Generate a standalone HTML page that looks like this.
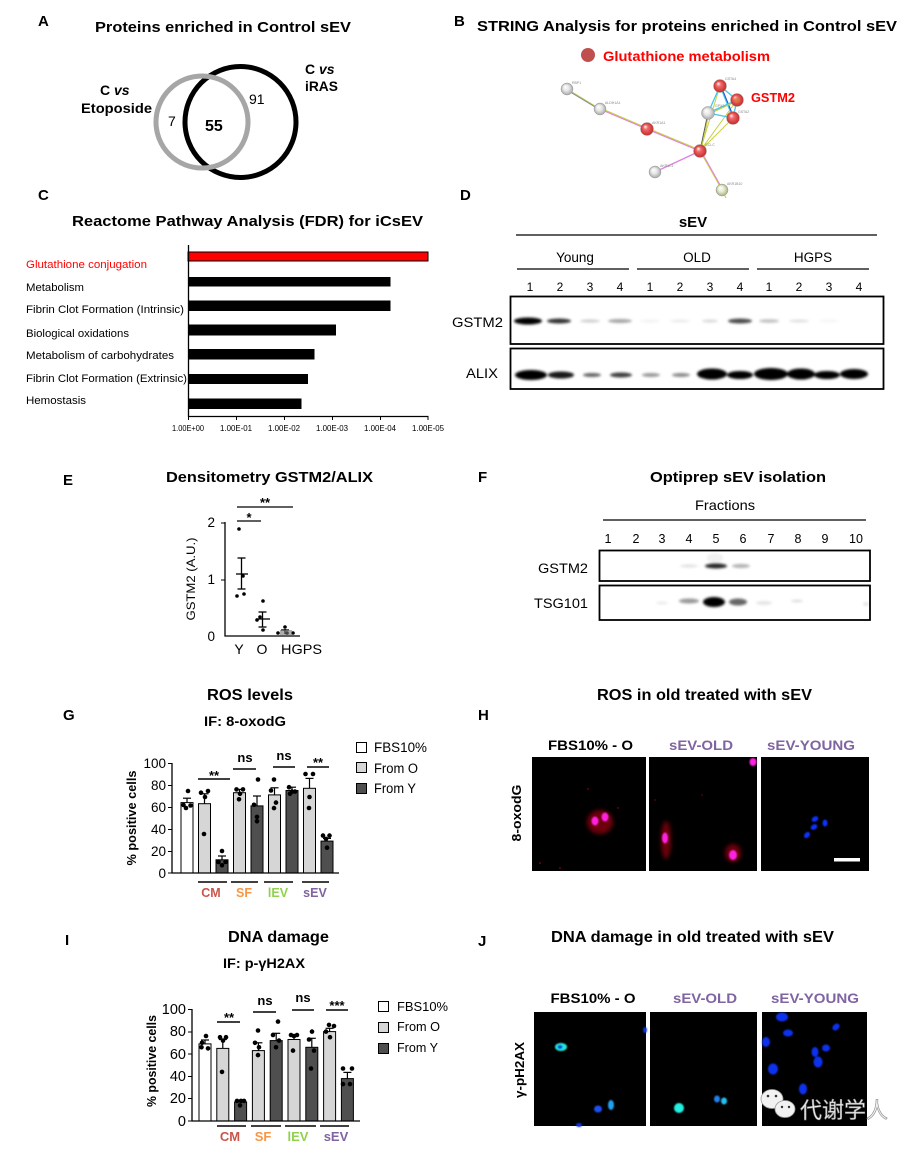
<!DOCTYPE html>
<html><head><meta charset="utf-8"><style>
html,body{margin:0;padding:0;background:#fff;}
svg{display:block;}
text{font-family:"Liberation Sans",Arial,sans-serif;}
</style></head><body>
<svg width="921" height="1149" viewBox="0 0 921 1149" xmlns="http://www.w3.org/2000/svg">
<defs>
<filter id="bl" x="-50%" y="-150%" width="200%" height="400%"><feGaussianBlur stdDeviation="1.2"/></filter>
<filter id="bl2" x="-50%" y="-50%" width="200%" height="200%"><feGaussianBlur stdDeviation="0.7"/></filter>
<filter id="bl3" x="-50%" y="-50%" width="200%" height="200%"><feGaussianBlur stdDeviation="2"/></filter>
<radialGradient id="rg" cx="50%" cy="50%" r="50%" fx="35%" fy="30%"><stop offset="0" stop-color="#fff"/><stop offset="0.35" stop-color="#f26a6a"/><stop offset="1" stop-color="#c42a2a"/></radialGradient>
<radialGradient id="gg" cx="50%" cy="50%" r="50%" fx="35%" fy="30%"><stop offset="0" stop-color="#fff"/><stop offset="0.5" stop-color="#e6e6e6"/><stop offset="1" stop-color="#a8a8a8"/></radialGradient>
<radialGradient id="yg" cx="50%" cy="50%" r="50%" fx="35%" fy="30%"><stop offset="0" stop-color="#fff"/><stop offset="0.5" stop-color="#e8ecd0"/><stop offset="1" stop-color="#a8b080"/></radialGradient>
</defs>

<!-- ===== Panel A ===== -->
<text x="38" y="26" font-weight="bold" font-size="15">A</text>
<text x="95" y="32" font-weight="bold" font-size="15" textLength="256" lengthAdjust="spacingAndGlyphs">Proteins enriched in Control sEV</text>
<circle cx="240.5" cy="122" r="55.5" fill="none" stroke="#000" stroke-width="5"/>
<circle cx="202" cy="122" r="46" fill="none" stroke="#a6a6a6" stroke-width="5"/>
<text x="100" y="95" font-weight="bold" font-size="14">C <tspan font-style="italic">vs</tspan></text>
<text x="81" y="113" font-weight="bold" font-size="14" textLength="71" lengthAdjust="spacingAndGlyphs">Etoposide</text>
<text x="305" y="74" font-weight="bold" font-size="14">C <tspan font-style="italic">vs</tspan></text>
<text x="305" y="91" font-weight="bold" font-size="14" textLength="33" lengthAdjust="spacingAndGlyphs">iRAS</text>
<text x="168" y="126" font-size="14">7</text>
<text x="205" y="131" font-weight="bold" font-size="16">55</text>
<text x="249" y="104" font-size="14">91</text>

<!-- ===== Panel B ===== -->
<text x="454" y="26" font-weight="bold" font-size="15">B</text>
<text x="477" y="31" font-weight="bold" font-size="15" textLength="420" lengthAdjust="spacingAndGlyphs">STRING Analysis for proteins enriched in Control sEV</text>
<circle cx="588" cy="55" r="7" fill="#c0504d"/>
<text x="603" y="61" font-weight="bold" font-size="14" fill="#ff0000" textLength="167" lengthAdjust="spacingAndGlyphs">Glutathione metabolism</text>
<g fill="none" stroke-width="1">
<line x1="567" y1="89" x2="600" y2="109" stroke="#b0c050"/>
<line x1="567" y1="90" x2="600" y2="110" stroke="#888"/>
<line x1="600" y1="109" x2="647" y2="129" stroke="#e080e0" stroke-width="1.3"/>
<line x1="600" y1="108" x2="647" y2="128" stroke="#c8d040"/>
<line x1="647" y1="129" x2="700" y2="151" stroke="#e080e0" stroke-width="1.3"/>
<line x1="647" y1="128" x2="700" y2="150" stroke="#c8d040"/>
<line x1="655" y1="172" x2="700" y2="151" stroke="#e080e0" stroke-width="1.3"/>
<line x1="700" y1="151" x2="722" y2="190" stroke="#c8d040"/>
<line x1="701" y1="151" x2="723" y2="190" stroke="#e080e0"/>
<line x1="722" y1="190" x2="726" y2="198" stroke="#c8d040"/>
<line x1="700" y1="151" x2="708" y2="113" stroke="#555"/>
<line x1="701" y1="151" x2="709" y2="113" stroke="#c8d040"/>
<line x1="700" y1="151" x2="733" y2="118" stroke="#c8d040"/>
<line x1="700" y1="151" x2="720" y2="86" stroke="#c8d040"/>
<line x1="700" y1="151" x2="737" y2="100" stroke="#c8d040"/>
<line x1="720" y1="86" x2="737" y2="100" stroke="#40c8e8" stroke-width="1.3"/>
<line x1="720" y1="86" x2="733" y2="118" stroke="#40c8e8" stroke-width="1.3"/>
<line x1="721" y1="86" x2="734" y2="118" stroke="#3050d0"/>
<line x1="737" y1="100" x2="733" y2="118" stroke="#40c8e8" stroke-width="1.3"/>
<line x1="708" y1="113" x2="720" y2="86" stroke="#40c8e8" stroke-width="1.3"/>
<line x1="708" y1="113" x2="733" y2="118" stroke="#40c8e8" stroke-width="1.3"/>
<line x1="708" y1="113" x2="737" y2="100" stroke="#40c8e8" stroke-width="1.3"/>
<line x1="709" y1="114" x2="737" y2="101" stroke="#c8d040"/>
</g>
<g stroke="#999" stroke-width="0.5">
<circle cx="567" cy="89" r="6" fill="url(#gg)"/>
<circle cx="600" cy="109" r="6" fill="url(#gg)"/>
<circle cx="647" cy="129" r="6.5" fill="url(#rg)"/>
<circle cx="700" cy="151" r="6.5" fill="url(#rg)"/>
<circle cx="655" cy="172" r="6" fill="url(#gg)"/>
<circle cx="722" cy="190" r="6" fill="url(#yg)"/>
<circle cx="720" cy="86" r="6.5" fill="url(#rg)"/>
<circle cx="708" cy="113" r="6.5" fill="url(#gg)"/>
<circle cx="737" cy="100" r="6.5" fill="url(#rg)"/>
<circle cx="733" cy="118" r="6.5" fill="url(#rg)"/>
</g>
<circle cx="737" cy="100" r="3" fill="#d08030" opacity="0.6"/>
<g font-size="3.5" fill="#888">
<text x="572" y="84">RBP1</text>
<text x="605" y="104">ALDH1A1</text>
<text x="652" y="124">AKR1A1</text>
<text x="705" y="146">GCLC</text>
<text x="660" y="167">AKR1C1</text>
<text x="727" y="185">AKR1B10</text>
<text x="725" y="80">GSTA4</text>
<text x="715" y="107">GPX3</text>
<text x="738" y="113">GSTA2</text>
</g>
<text x="751" y="102" font-weight="bold" font-size="13" fill="#ff0000" textLength="44" lengthAdjust="spacingAndGlyphs">GSTM2</text>

<!-- ===== Panel C ===== -->
<text x="38" y="200" font-weight="bold" font-size="15">C</text>
<text x="72" y="226" font-weight="bold" font-size="15" textLength="351" lengthAdjust="spacingAndGlyphs">Reactome Pathway Analysis (FDR) for iCsEV</text>
<rect x="188" y="252" width="240" height="9" fill="#ff0000" stroke="#000" stroke-width="1"/>
<rect x="188" y="277" width="202.5" height="9.5" fill="#000"/>
<rect x="188" y="300.5" width="202.5" height="10.5" fill="#000"/>
<rect x="188" y="324.5" width="148" height="11" fill="#000"/>
<rect x="188" y="349" width="126.5" height="10.5" fill="#000"/>
<rect x="188" y="374" width="120" height="10" fill="#000"/>
<rect x="188" y="398.5" width="113.5" height="10.5" fill="#000"/>
<line x1="188.5" y1="245" x2="188.5" y2="417" stroke="#000" stroke-width="1.3"/>
<line x1="188" y1="416.5" x2="428.5" y2="416.5" stroke="#000" stroke-width="1.3"/>
<g stroke="#000" stroke-width="1">
<line x1="188.5" y1="416" x2="188.5" y2="420"/><line x1="236.5" y1="416" x2="236.5" y2="420"/><line x1="284.5" y1="416" x2="284.5" y2="420"/><line x1="332.5" y1="416" x2="332.5" y2="420"/><line x1="380.5" y1="416" x2="380.5" y2="420"/><line x1="428" y1="416" x2="428" y2="420"/>
</g>
<g font-size="8.5" text-anchor="middle">
<text x="188" y="431" textLength="32" lengthAdjust="spacingAndGlyphs">1.00E+00</text>
<text x="236" y="431" textLength="32" lengthAdjust="spacingAndGlyphs">1.00E-01</text>
<text x="284" y="431" textLength="32" lengthAdjust="spacingAndGlyphs">1.00E-02</text>
<text x="332" y="431" textLength="32" lengthAdjust="spacingAndGlyphs">1.00E-03</text>
<text x="380" y="431" textLength="32" lengthAdjust="spacingAndGlyphs">1.00E-04</text>
<text x="428" y="431" textLength="32" lengthAdjust="spacingAndGlyphs">1.00E-05</text>
</g>
<g font-size="11">
<text x="26" y="268" fill="#ff0000" textLength="121" lengthAdjust="spacingAndGlyphs">Glutathione conjugation</text>
<text x="26" y="291" textLength="58" lengthAdjust="spacingAndGlyphs">Metabolism</text>
<text x="26" y="313" textLength="158" lengthAdjust="spacingAndGlyphs">Fibrin Clot Formation (Intrinsic)</text>
<text x="26" y="337" textLength="103" lengthAdjust="spacingAndGlyphs">Biological oxidations</text>
<text x="26" y="359" textLength="148" lengthAdjust="spacingAndGlyphs">Metabolism of carbohydrates</text>
<text x="26" y="382" textLength="161" lengthAdjust="spacingAndGlyphs">Fibrin Clot Formation (Extrinsic)</text>
<text x="26" y="404" textLength="60" lengthAdjust="spacingAndGlyphs">Hemostasis</text>
</g>

<!-- ===== Panel D ===== -->
<text x="460" y="200" font-weight="bold" font-size="15">D</text>
<text x="693" y="227" font-weight="bold" font-size="15" text-anchor="middle">sEV</text>
<line x1="516" y1="235" x2="877" y2="235" stroke="#000" stroke-width="1.3"/>
<g font-size="13.5" text-anchor="middle">
<text x="575" y="262">Young</text>
<text x="697" y="262">OLD</text>
<text x="813" y="262">HGPS</text>
</g>
<g stroke="#000" stroke-width="1.3">
<line x1="517" y1="269" x2="629" y2="269"/>
<line x1="637" y1="269" x2="749" y2="269"/>
<line x1="757" y1="269" x2="869" y2="269"/>
</g>
<g font-size="12" text-anchor="middle">
<text x="530" y="291">1</text><text x="560" y="291">2</text><text x="590" y="291">3</text><text x="620" y="291">4</text>
<text x="650" y="291">1</text><text x="680" y="291">2</text><text x="710" y="291">3</text><text x="740" y="291">4</text>
<text x="769" y="291">1</text><text x="799" y="291">2</text><text x="829" y="291">3</text><text x="859" y="291">4</text>
</g>
<text x="452" y="327" font-size="13.5" textLength="51" lengthAdjust="spacingAndGlyphs">GSTM2</text>
<text x="466" y="378" font-size="13.5" textLength="32" lengthAdjust="spacingAndGlyphs">ALIX</text>
<g filter="url(#bl)" fill="#000">
<ellipse cx="528" cy="321" rx="14" ry="3.5"/>
<ellipse cx="559" cy="321" rx="12" ry="2.5" opacity="0.8"/>
<ellipse cx="590" cy="321" rx="10" ry="1.5" opacity="0.2"/>
<ellipse cx="620" cy="321" rx="12" ry="2" opacity="0.35"/>
<ellipse cx="650" cy="321" rx="10" ry="1.5" opacity="0.05"/>
<ellipse cx="680" cy="321" rx="10" ry="1.5" opacity="0.08"/>
<ellipse cx="710" cy="321" rx="8" ry="1.5" opacity="0.15"/>
<ellipse cx="740" cy="321" rx="12" ry="2.5" opacity="0.7"/>
<ellipse cx="769" cy="321" rx="10" ry="1.8" opacity="0.25"/>
<ellipse cx="799" cy="321" rx="10" ry="1.5" opacity="0.12"/>
<ellipse cx="829" cy="321" rx="10" ry="1.5" opacity="0.04"/>
<ellipse cx="531" cy="375" rx="16" ry="5"/>
<ellipse cx="561" cy="375" rx="13" ry="3.5" opacity="0.9"/>
<ellipse cx="592" cy="375" rx="9" ry="2" opacity="0.6"/>
<ellipse cx="621" cy="375" rx="11" ry="2.5" opacity="0.75"/>
<ellipse cx="651" cy="375" rx="9" ry="2" opacity="0.4"/>
<ellipse cx="681" cy="375" rx="9" ry="2" opacity="0.45"/>
<ellipse cx="712" cy="374" rx="15" ry="5.5"/>
<ellipse cx="740" cy="375" rx="13" ry="4"/>
<ellipse cx="771" cy="374" rx="17" ry="6"/>
<ellipse cx="801" cy="374" rx="14" ry="5.5"/>
<ellipse cx="827" cy="375" rx="13" ry="4"/>
<ellipse cx="854" cy="374" rx="14" ry="5"/>
</g>
<rect x="510.5" y="296.5" width="373" height="47.5" fill="none" stroke="#000" stroke-width="1.8"/>
<rect x="510.5" y="348.5" width="373" height="40.5" fill="none" stroke="#000" stroke-width="1.8"/>

<!-- ===== Panel E ===== -->
<text x="63" y="485" font-weight="bold" font-size="15">E</text>
<text x="166" y="482" font-weight="bold" font-size="15" textLength="207" lengthAdjust="spacingAndGlyphs">Densitometry GSTM2/ALIX</text>
<line x1="225" y1="522" x2="225" y2="636.5" stroke="#000" stroke-width="1.3"/>
<line x1="224.5" y1="636" x2="300" y2="636" stroke="#000" stroke-width="1.3"/>
<g stroke="#000" stroke-width="1"><line x1="221" y1="523" x2="225" y2="523"/><line x1="221" y1="580" x2="225" y2="580"/></g>
<g font-size="13.5" text-anchor="end">
<text x="215" y="527">2</text><text x="215" y="584">1</text><text x="215" y="641">0</text>
</g>
<text x="0" y="0" font-size="12" text-anchor="middle" transform="translate(195,579) rotate(-90)" textLength="83" lengthAdjust="spacingAndGlyphs">GSTM2 (A.U.)</text>
<g font-size="14" text-anchor="middle">
<text x="239" y="654">Y</text><text x="262" y="654">O</text><text x="301.5" y="654" textLength="41" lengthAdjust="spacingAndGlyphs">HGPS</text>
</g>
<g stroke="#000" stroke-width="1.3">
<line x1="237" y1="521" x2="261" y2="521"/>
<line x1="237" y1="507" x2="293" y2="507"/>
<line x1="241.5" y1="558" x2="241.5" y2="589"/>
<line x1="237.5" y1="558" x2="245.5" y2="558"/><line x1="237.5" y1="589" x2="245.5" y2="589"/>
<line x1="236" y1="574" x2="248" y2="574"/>
<line x1="262.5" y1="612" x2="262.5" y2="627"/>
<line x1="258.5" y1="612" x2="266.5" y2="612"/><line x1="258.5" y1="627" x2="266.5" y2="627"/>
<line x1="256" y1="619" x2="270" y2="619"/>
<line x1="281" y1="630" x2="289" y2="630"/><line x1="285" y1="629" x2="285" y2="634"/>
</g>
<g font-weight="bold" font-size="13" text-anchor="middle">
<text x="249" y="522">*</text><text x="265" y="507">**</text>
</g>
<g fill="#000">
<circle cx="239" cy="529" r="1.8"/><circle cx="243" cy="576" r="1.8"/><circle cx="237" cy="596" r="1.8"/><circle cx="244" cy="594" r="1.8"/>
<circle cx="263" cy="601" r="1.8"/><circle cx="257" cy="620" r="1.8"/><circle cx="263" cy="630" r="1.8"/><circle cx="260" cy="617" r="1.8"/>
<circle cx="278" cy="633" r="1.8"/><circle cx="285" cy="627" r="1.8"/><circle cx="287" cy="633" r="1.8"/><circle cx="293" cy="633" r="1.8"/>
</g>
<rect x="280" y="630" width="12" height="5" fill="#777" opacity="0.6"/>

<!-- ===== Panel F ===== -->
<text x="478" y="482" font-weight="bold" font-size="15">F</text>
<text x="650" y="482" font-weight="bold" font-size="15" textLength="176" lengthAdjust="spacingAndGlyphs">Optiprep sEV isolation</text>
<text x="725" y="510" font-size="14" text-anchor="middle" textLength="60" lengthAdjust="spacingAndGlyphs">Fractions</text>
<line x1="603" y1="520" x2="866" y2="520" stroke="#000" stroke-width="1.3"/>
<g font-size="12.5" text-anchor="middle">
<text x="608" y="543">1</text><text x="636" y="543">2</text><text x="662" y="543">3</text><text x="689" y="543">4</text><text x="716" y="543">5</text><text x="743" y="543">6</text><text x="771" y="543">7</text><text x="798" y="543">8</text><text x="825" y="543">9</text><text x="856" y="543">10</text>
</g>
<text x="538" y="573" font-size="13.5" textLength="50" lengthAdjust="spacingAndGlyphs">GSTM2</text>
<text x="534" y="608" font-size="13.5" textLength="54" lengthAdjust="spacingAndGlyphs">TSG101</text>
<g filter="url(#bl)" fill="#000">
<ellipse cx="689" cy="566" rx="9" ry="1.5" opacity="0.12"/>
<ellipse cx="716" cy="566" rx="11" ry="2.5" opacity="0.85"/>
<ellipse cx="741" cy="566" rx="9" ry="2" opacity="0.3"/>
<ellipse cx="715" cy="558" rx="8" ry="5" opacity="0.06"/>
<ellipse cx="689" cy="601" rx="10" ry="2.5" opacity="0.4"/>
<ellipse cx="714" cy="602" rx="11" ry="5"/>
<ellipse cx="738" cy="602" rx="9" ry="3.5" opacity="0.6"/>
<ellipse cx="764" cy="603" rx="8" ry="2" opacity="0.1"/>
<ellipse cx="797" cy="601" rx="6" ry="1.5" opacity="0.12"/>
<ellipse cx="662" cy="603" rx="6" ry="1.5" opacity="0.08"/>
<ellipse cx="866" cy="604" rx="3" ry="2" opacity="0.1"/>
</g>
<rect x="599.5" y="550.5" width="270.5" height="30.5" fill="none" stroke="#000" stroke-width="1.8"/>
<rect x="599.5" y="585.5" width="270.5" height="34.5" fill="none" stroke="#000" stroke-width="1.8"/>

<!-- ===== Panel G ===== -->
<text x="63" y="720" font-weight="bold" font-size="15">G</text>
<text x="250" y="700" font-weight="bold" font-size="15.5" text-anchor="middle" textLength="86" lengthAdjust="spacingAndGlyphs">ROS levels</text>
<text x="245" y="726" font-weight="bold" font-size="14" text-anchor="middle" textLength="82" lengthAdjust="spacingAndGlyphs">IF: 8-oxodG</text>
<text x="0" y="0" font-weight="bold" font-size="12.5" text-anchor="middle" transform="translate(136,818) rotate(-90)" textLength="95" lengthAdjust="spacingAndGlyphs">% positive cells</text>
<g font-size="13.5" text-anchor="end">
<text x="166" y="768">100</text><text x="166" y="790">80</text><text x="166" y="812">60</text><text x="166" y="834">40</text><text x="166" y="856">20</text><text x="166" y="878">0</text>
</g>
<g stroke="#000" stroke-width="1">
<rect x="181" y="802.6" width="12" height="70.4" fill="#fff"/>
<rect x="198.5" y="803.7" width="12" height="69.3" fill="#d6d6d6"/>
<rect x="216" y="859.8" width="12" height="13.2" fill="#4f4f4f"/>
<rect x="233.5" y="792.7" width="12" height="80.3" fill="#d6d6d6"/>
<rect x="251" y="805.9" width="12" height="67.1" fill="#4f4f4f"/>
<rect x="268.5" y="794.9" width="12" height="78.1" fill="#d6d6d6"/>
<rect x="286" y="790.5" width="12" height="82.5" fill="#4f4f4f"/>
<rect x="303.5" y="788.3" width="12" height="84.7" fill="#d6d6d6"/>
<rect x="321" y="841.1" width="12" height="31.9" fill="#4f4f4f"/>
</g>
<g stroke="#000" stroke-width="1.2">
<line x1="187" y1="802.6" x2="187" y2="798.2"/><line x1="183" y1="798.2" x2="191" y2="798.2"/>
<line x1="204.5" y1="803.7" x2="204.5" y2="793.8"/><line x1="200.5" y1="793.8" x2="208.5" y2="793.8"/>
<line x1="222" y1="859.8" x2="222" y2="856"/><line x1="218" y1="856" x2="226" y2="856"/>
<line x1="239.5" y1="792.7" x2="239.5" y2="789.4"/><line x1="235.5" y1="789.4" x2="243.5" y2="789.4"/>
<line x1="257" y1="805.9" x2="257" y2="796"/><line x1="253" y1="796" x2="261" y2="796"/>
<line x1="274.5" y1="794.9" x2="274.5" y2="787.8"/><line x1="270.5" y1="787.8" x2="278.5" y2="787.8"/>
<line x1="292" y1="790.5" x2="292" y2="787.2"/><line x1="288" y1="787.2" x2="296" y2="787.2"/>
<line x1="309.5" y1="788.3" x2="309.5" y2="778.4"/><line x1="305.5" y1="778.4" x2="313.5" y2="778.4"/>
<line x1="327" y1="841.1" x2="327" y2="838.4"/><line x1="323" y1="838.4" x2="331" y2="838.4"/>
</g>
<g fill="#000">
<circle cx="188" cy="791" r="2.3"/><circle cx="183.5" cy="805" r="2.3"/><circle cx="190.5" cy="805.5" r="2.3"/><circle cx="186" cy="808" r="2.3"/>
<circle cx="201" cy="792.7" r="2.3"/><circle cx="208" cy="791" r="2.3"/><circle cx="205" cy="797" r="2.3"/><circle cx="204" cy="834" r="2.3"/>
<circle cx="222" cy="851" r="2.3"/><circle cx="218.5" cy="862" r="2.3"/><circle cx="222" cy="865.3" r="2.3"/><circle cx="225.5" cy="862" r="2.3"/>
<circle cx="236.5" cy="789.4" r="2.3"/><circle cx="243" cy="789.4" r="2.3"/><circle cx="240" cy="793.8" r="2.3"/><circle cx="239" cy="799.3" r="2.3"/>
<circle cx="258" cy="779.5" r="2.3"/><circle cx="254" cy="804.8" r="2.3"/><circle cx="257" cy="816.9" r="2.3"/><circle cx="257" cy="821.3" r="2.3"/>
<circle cx="274" cy="779.5" r="2.3"/><circle cx="271" cy="790.5" r="2.3"/><circle cx="276" cy="802.6" r="2.3"/><circle cx="274" cy="808.1" r="2.3"/>
<circle cx="289" cy="787.2" r="2.3"/><circle cx="295" cy="791.6" r="2.3"/><circle cx="292" cy="791.6" r="2.3"/><circle cx="290" cy="793.8" r="2.3"/>
<circle cx="305.5" cy="774" r="2.3"/><circle cx="313" cy="774" r="2.3"/><circle cx="309.5" cy="797" r="2.3"/><circle cx="309" cy="808" r="2.3"/>
<circle cx="323" cy="835.6" r="2.3"/><circle cx="329.5" cy="835.6" r="2.3"/><circle cx="326" cy="838.9" r="2.3"/><circle cx="327" cy="847.7" r="2.3"/>
</g>
<line x1="172" y1="763" x2="172" y2="873.5" stroke="#000" stroke-width="1.3"/>
<line x1="171.5" y1="873" x2="339" y2="873" stroke="#000" stroke-width="1.3"/>
<g stroke="#000" stroke-width="1"><line x1="168" y1="763.5" x2="172" y2="763.5"/><line x1="168" y1="785.5" x2="172" y2="785.5"/><line x1="168" y1="807.5" x2="172" y2="807.5"/><line x1="168" y1="829.5" x2="172" y2="829.5"/><line x1="168" y1="851.5" x2="172" y2="851.5"/><line x1="168" y1="873" x2="172" y2="873"/></g>
<g stroke="#000" stroke-width="1.5">
<line x1="198" y1="779" x2="230" y2="779"/>
<line x1="233" y1="769" x2="256" y2="769"/>
<line x1="273" y1="767" x2="295" y2="767"/>
<line x1="307" y1="767" x2="329" y2="767"/>
<line x1="198" y1="882" x2="227" y2="882"/>
<line x1="231" y1="882" x2="258" y2="882"/>
<line x1="264" y1="882" x2="293" y2="882"/>
<line x1="302" y1="882" x2="329" y2="882"/>
</g>
<g font-weight="bold" font-size="13" text-anchor="middle">
<text x="214" y="780">**</text>
<text x="245" y="762">ns</text>
<text x="284" y="760">ns</text>
<text x="318" y="767">**</text>
</g>
<g font-weight="bold" font-size="12.5" text-anchor="middle">
<text x="211" y="897" fill="#c9564b">CM</text>
<text x="244" y="897" fill="#f79646">SF</text>
<text x="278" y="897" fill="#92d050">lEV</text>
<text x="315" y="897" fill="#8064a2">sEV</text>
</g>
<g stroke="#000" stroke-width="1">
<rect x="356.5" y="742.5" width="10" height="10" fill="#fff"/>
<rect x="356.5" y="762.5" width="10" height="10" fill="#d6d6d6"/>
<rect x="356.5" y="783.5" width="10" height="10" fill="#4f4f4f"/>
</g>
<g font-size="13.5">
<text x="374" y="752" textLength="53" lengthAdjust="spacingAndGlyphs">FBS10%</text>
<text x="374" y="773" textLength="44" lengthAdjust="spacingAndGlyphs">From O</text>
<text x="374" y="793" textLength="42" lengthAdjust="spacingAndGlyphs">From Y</text>
</g>

<!-- ===== Panel H ===== -->
<text x="478" y="720" font-weight="bold" font-size="15">H</text>
<text x="597" y="700" font-weight="bold" font-size="15.5" textLength="215" lengthAdjust="spacingAndGlyphs">ROS in old treated with sEV</text>
<g font-weight="bold" font-size="13.5" text-anchor="middle">
<text x="590.5" y="750" textLength="85" lengthAdjust="spacingAndGlyphs">FBS10% - O</text>
<text x="701" y="750" fill="#8064a2" textLength="64" lengthAdjust="spacingAndGlyphs">sEV-OLD</text>
<text x="811" y="750" fill="#8064a2" textLength="88" lengthAdjust="spacingAndGlyphs">sEV-YOUNG</text>
</g>
<text x="0" y="0" font-weight="bold" font-size="13" text-anchor="middle" transform="translate(521,813) rotate(-90)" textLength="57" lengthAdjust="spacingAndGlyphs">8-oxodG</text>
<rect x="532" y="757" width="114" height="114" fill="#000"/>
<rect x="649" y="757" width="108" height="114" fill="#000"/>
<rect x="761" y="757" width="108" height="114" fill="#000"/>
<g filter="url(#bl3)" fill="#7a0010" opacity="0.9">
<ellipse cx="600" cy="822" rx="13" ry="12"/>
<ellipse cx="666" cy="840" rx="5" ry="19"/>
<ellipse cx="733" cy="853" rx="8" ry="9"/>
</g>
<g filter="url(#bl2)">
<ellipse cx="595" cy="821" rx="3.5" ry="4.5" fill="#ff20e0"/>
<ellipse cx="605" cy="817" rx="3.5" ry="4.5" fill="#ff20e0"/>
<ellipse cx="665" cy="838" rx="3" ry="5.5" fill="#ff20e0"/>
<ellipse cx="733" cy="855" rx="4" ry="5" fill="#ff20e0"/>
<ellipse cx="753" cy="762" rx="3.5" ry="4" fill="#ff20e0"/>
<ellipse cx="815" cy="819" rx="3.5" ry="2.5" fill="#1030ff" transform="rotate(-30 815 819)"/>
<ellipse cx="814" cy="827" rx="3.5" ry="2.5" fill="#1030ff" transform="rotate(-30 814 827)"/>
<ellipse cx="807" cy="835" rx="3.5" ry="2.5" fill="#1030ff" transform="rotate(-50 807 835)"/>
<ellipse cx="825" cy="823" rx="2.5" ry="3.5" fill="#1030ff"/>
</g>
<g fill="#c00010">
<circle cx="540" cy="863" r="0.8"/><circle cx="560" cy="868" r="0.7"/><circle cx="588" cy="789" r="0.7"/><circle cx="655" cy="800" r="0.6"/><circle cx="702" cy="795" r="0.6"/><circle cx="618" cy="808" r="0.7"/>
</g>
<rect x="834" y="858" width="26" height="3.5" fill="#fff"/>

<!-- ===== Panel I ===== -->
<text x="65" y="945" font-weight="bold" font-size="15">I</text>
<text x="278.5" y="942" font-weight="bold" font-size="15.5" text-anchor="middle" textLength="101" lengthAdjust="spacingAndGlyphs">DNA damage</text>
<text x="264" y="968" font-weight="bold" font-size="14" text-anchor="middle" textLength="82" lengthAdjust="spacingAndGlyphs">IF: p-γH2AX</text>
<text x="0" y="0" font-weight="bold" font-size="12.5" text-anchor="middle" transform="translate(156,1061) rotate(-90)" textLength="92" lengthAdjust="spacingAndGlyphs">% positive cells</text>
<g font-size="14.5" text-anchor="end">
<text x="186" y="1014">100</text><text x="186" y="1036">80</text><text x="186" y="1059">60</text><text x="186" y="1081">40</text><text x="186" y="1103">20</text><text x="186" y="1126">0</text>
</g>
<g stroke="#000" stroke-width="1">
<rect x="199" y="1043.9" width="12" height="77.1" fill="#fff"/>
<rect x="216.8" y="1048.4" width="12" height="72.6" fill="#d6d6d6"/>
<rect x="234.6" y="1102" width="12" height="19" fill="#4f4f4f"/>
<rect x="252.4" y="1050.6" width="12" height="70.4" fill="#d6d6d6"/>
<rect x="270.2" y="1040.6" width="12" height="80.4" fill="#4f4f4f"/>
<rect x="288" y="1039.5" width="12" height="81.5" fill="#d6d6d6"/>
<rect x="305.8" y="1047.3" width="12" height="73.7" fill="#4f4f4f"/>
<rect x="323.6" y="1031.6" width="12" height="89.4" fill="#d6d6d6"/>
<rect x="341.4" y="1078.6" width="12" height="42.4" fill="#4f4f4f"/>
</g>
<g stroke="#000" stroke-width="1.2">
<line x1="205" y1="1043.9" x2="205" y2="1040"/><line x1="201" y1="1040" x2="209" y2="1040"/>
<line x1="222.8" y1="1048.4" x2="222.8" y2="1039.5"/><line x1="218.8" y1="1039.5" x2="226.8" y2="1039.5"/>
<line x1="240.6" y1="1102" x2="240.6" y2="1100.3"/><line x1="236.6" y1="1100.3" x2="244.6" y2="1100.3"/>
<line x1="258.4" y1="1050.6" x2="258.4" y2="1042.8"/><line x1="254.4" y1="1042.8" x2="262.4" y2="1042.8"/>
<line x1="276.2" y1="1040.6" x2="276.2" y2="1033.3"/><line x1="272.2" y1="1033.3" x2="280.2" y2="1033.3"/>
<line x1="294" y1="1039.5" x2="294" y2="1036.1"/><line x1="290" y1="1036.1" x2="298" y2="1036.1"/>
<line x1="311.8" y1="1047.3" x2="311.8" y2="1038.3"/><line x1="307.8" y1="1038.3" x2="315.8" y2="1038.3"/>
<line x1="329.6" y1="1031.6" x2="329.6" y2="1028.3"/><line x1="325.6" y1="1028.3" x2="333.6" y2="1028.3"/>
<line x1="347.4" y1="1078.6" x2="347.4" y2="1072.4"/><line x1="343.4" y1="1072.4" x2="351.4" y2="1072.4"/>
</g>
<g fill="#000">
<circle cx="206" cy="1036" r="2.3"/><circle cx="202" cy="1042.8" r="2.3"/><circle cx="201.5" cy="1047.3" r="2.3"/><circle cx="208" cy="1048.4" r="2.3"/>
<circle cx="220" cy="1037.2" r="2.3"/><circle cx="226" cy="1037.2" r="2.3"/><circle cx="223" cy="1040.6" r="2.3"/><circle cx="222" cy="1071.9" r="2.3"/>
<circle cx="237" cy="1100.9" r="2.3"/><circle cx="241" cy="1100.9" r="2.3"/><circle cx="244" cy="1100.9" r="2.3"/><circle cx="240" cy="1105.4" r="2.3"/>
<circle cx="258" cy="1030.5" r="2.3"/><circle cx="255" cy="1042.8" r="2.3"/><circle cx="259" cy="1047.3" r="2.3"/><circle cx="258" cy="1055.1" r="2.3"/>
<circle cx="278" cy="1021.6" r="2.3"/><circle cx="273" cy="1035" r="2.3"/><circle cx="279" cy="1040.6" r="2.3"/><circle cx="276" cy="1047.3" r="2.3"/>
<circle cx="291" cy="1035" r="2.3"/><circle cx="297" cy="1035" r="2.3"/><circle cx="294" cy="1036.1" r="2.3"/><circle cx="293" cy="1050.6" r="2.3"/>
<circle cx="312" cy="1031.6" r="2.3"/><circle cx="309" cy="1039.5" r="2.3"/><circle cx="314" cy="1050.6" r="2.3"/><circle cx="311" cy="1068.5" r="2.3"/>
<circle cx="329" cy="1024.9" r="2.3"/><circle cx="334" cy="1026" r="2.3"/><circle cx="326" cy="1031.6" r="2.3"/><circle cx="330" cy="1037.2" r="2.3"/>
<circle cx="343" cy="1068.5" r="2.3"/><circle cx="352" cy="1068.5" r="2.3"/><circle cx="343" cy="1084.1" r="2.3"/><circle cx="350" cy="1084.1" r="2.3"/>
</g>
<line x1="192" y1="1009" x2="192" y2="1121.5" stroke="#000" stroke-width="1.3"/>
<line x1="191.5" y1="1121" x2="360" y2="1121" stroke="#000" stroke-width="1.3"/>
<g stroke="#000" stroke-width="1"><line x1="188" y1="1009.5" x2="192" y2="1009.5"/><line x1="188" y1="1032" x2="192" y2="1032"/><line x1="188" y1="1054" x2="192" y2="1054"/><line x1="188" y1="1076.5" x2="192" y2="1076.5"/><line x1="188" y1="1098.5" x2="192" y2="1098.5"/><line x1="188" y1="1121" x2="192" y2="1121"/></g>
<g stroke="#000" stroke-width="1.5">
<line x1="217" y1="1022" x2="240" y2="1022"/>
<line x1="253" y1="1012" x2="276" y2="1012"/>
<line x1="292" y1="1010" x2="314" y2="1010"/>
<line x1="326" y1="1010" x2="348" y2="1010"/>
<line x1="217" y1="1126" x2="246" y2="1126"/>
<line x1="251" y1="1126" x2="281" y2="1126"/>
<line x1="285" y1="1126" x2="316" y2="1126"/>
<line x1="320" y1="1126" x2="349" y2="1126"/>
</g>
<g font-weight="bold" font-size="13" text-anchor="middle">
<text x="229" y="1022">**</text>
<text x="265" y="1005">ns</text>
<text x="303" y="1002">ns</text>
<text x="337" y="1010">***</text>
</g>
<g font-weight="bold" font-size="13" text-anchor="middle">
<text x="230" y="1141" fill="#c9564b">CM</text>
<text x="263" y="1141" fill="#f79646">SF</text>
<text x="298" y="1141" fill="#92d050">lEV</text>
<text x="336" y="1141" fill="#8064a2">sEV</text>
</g>
<g stroke="#000" stroke-width="1">
<rect x="378.5" y="1001.5" width="10" height="10" fill="#fff"/>
<rect x="378.5" y="1022.5" width="10" height="10" fill="#d6d6d6"/>
<rect x="378.5" y="1043.5" width="10" height="10" fill="#4f4f4f"/>
</g>
<g font-size="13">
<text x="397" y="1011" textLength="51" lengthAdjust="spacingAndGlyphs">FBS10%</text>
<text x="397" y="1031" textLength="43" lengthAdjust="spacingAndGlyphs">From O</text>
<text x="397" y="1052" textLength="41" lengthAdjust="spacingAndGlyphs">From Y</text>
</g>

<!-- ===== Panel J ===== -->
<text x="478" y="946" font-weight="bold" font-size="15">J</text>
<text x="551" y="942" font-weight="bold" font-size="15.5" textLength="283" lengthAdjust="spacingAndGlyphs">DNA damage in old treated with sEV</text>
<g font-weight="bold" font-size="13.5" text-anchor="middle">
<text x="593" y="1003" textLength="85" lengthAdjust="spacingAndGlyphs">FBS10% - O</text>
<text x="705" y="1003" fill="#8064a2" textLength="64" lengthAdjust="spacingAndGlyphs">sEV-OLD</text>
<text x="815" y="1003" fill="#8064a2" textLength="88" lengthAdjust="spacingAndGlyphs">sEV-YOUNG</text>
</g>
<text x="0" y="0" font-weight="bold" font-size="13" text-anchor="middle" transform="translate(524,1070) rotate(-90)" textLength="56" lengthAdjust="spacingAndGlyphs">γ-pH2AX</text>
<rect x="534" y="1012" width="112" height="114" fill="#000"/>
<rect x="650" y="1012" width="107" height="114" fill="#000"/>
<rect x="762" y="1012" width="105" height="114" fill="#000"/>
<g filter="url(#bl2)">
<ellipse cx="561" cy="1047" rx="6" ry="4" fill="#20e8d8"/>
<ellipse cx="560" cy="1047" rx="2.5" ry="2" fill="#1040e0"/>
<ellipse cx="598" cy="1109" rx="4" ry="3.5" fill="#1a50f0"/>
<ellipse cx="611" cy="1105" rx="3" ry="5" fill="#20a0f0"/>
<ellipse cx="645" cy="1030" rx="2" ry="3" fill="#1030e0"/>
<ellipse cx="579" cy="1125" rx="3" ry="2" fill="#1030e0"/>
<ellipse cx="679" cy="1108" rx="5" ry="5" fill="#20f0e0"/>
<ellipse cx="717" cy="1099" rx="3" ry="3.5" fill="#2080f0"/>
<ellipse cx="724" cy="1101" rx="3" ry="3.5" fill="#20c0f0"/>
<ellipse cx="782" cy="1017" rx="6" ry="4.5" fill="#0a30ee"/>
<ellipse cx="788" cy="1033" rx="5" ry="3.5" fill="#0a30ee"/>
<ellipse cx="836" cy="1027" rx="4" ry="3" fill="#0a30ee" transform="rotate(-40 836 1027)"/>
<ellipse cx="766" cy="1042" rx="4" ry="5" fill="#0a30ee"/>
<ellipse cx="815" cy="1052" rx="3.5" ry="5" fill="#0a30ee"/>
<ellipse cx="826" cy="1048" rx="4" ry="3.5" fill="#0a30ee"/>
<ellipse cx="818" cy="1062" rx="4.5" ry="5.5" fill="#0a30ee"/>
<ellipse cx="773" cy="1069" rx="5" ry="5.5" fill="#0a30ee"/>
<ellipse cx="803" cy="1089" rx="4" ry="5.5" fill="#0a30ee"/>
</g>
<!-- watermark -->
<ellipse cx="772" cy="1099" rx="11" ry="9.5" fill="#f2f2f2" stroke="#999" stroke-width="0.8"/>
<ellipse cx="785" cy="1109" rx="10" ry="8.5" fill="#f2f2f2" stroke="#999" stroke-width="0.8"/>
<circle cx="768" cy="1096" r="1.3" fill="#333"/><circle cx="776" cy="1096" r="1.3" fill="#333"/>
<circle cx="782" cy="1107" r="1.2" fill="#333"/><circle cx="789" cy="1107" r="1.2" fill="#333"/>
<text x="800" y="1118" font-size="22" fill="#f0f0f0" stroke="#8a8a8a" stroke-width="0.6" style="font-family:'Liberation Sans','Noto Sans CJK SC',sans-serif">代谢学人</text>
</svg>
</body></html>
